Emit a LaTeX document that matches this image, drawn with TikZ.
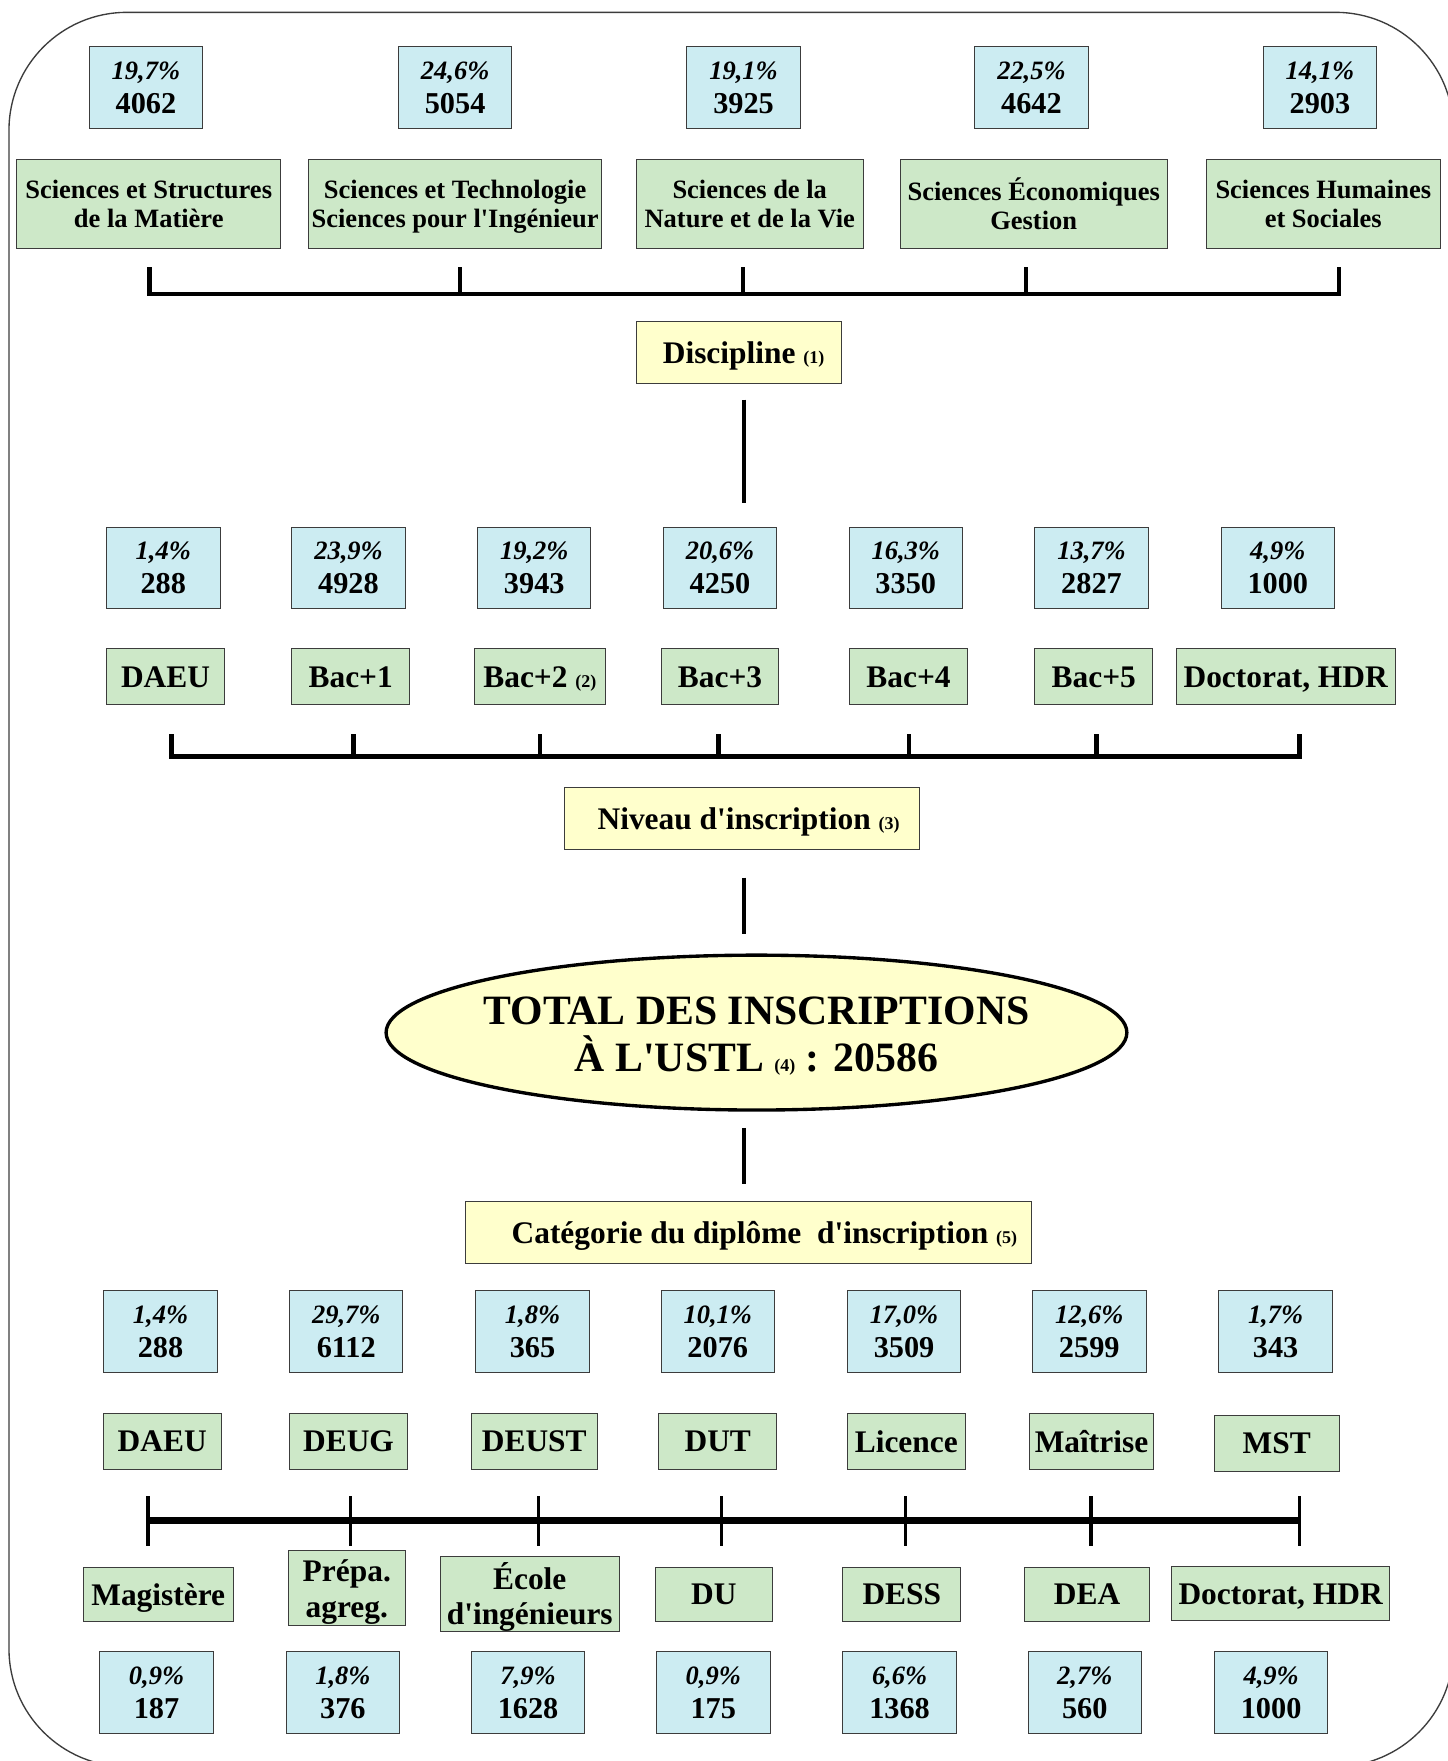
\documentclass[tikz,border=0pt]{standalone}
\usepackage{fontspec}
\setmainfont{Liberation Serif}[Ligatures=TeXOff]
\usetikzlibrary{shapes.geometric}
\definecolor{pctblue}{RGB}{204,236,242}
\definecolor{labgreen}{RGB}{205,232,200}
\definecolor{headyellow}{RGB}{255,255,204}
\definecolor{boxline}{RGB}{60,60,60}
\newcommand{\pct}[1]{{\fontsize{11.8}{15}\selectfont\itshape #1}}
\newcommand{\refnum}[1]{{\fontsize{8}{10}\selectfont #1}}
\tikzset{
  pctbox/.style={rectangle, draw=boxline, fill=pctblue, minimum width=50.5pt, minimum height=36.5pt,
    align=center, inner sep=0pt, font=\fontsize{13.5}{15}\selectfont\bfseries},
  labbox/.style={rectangle, draw=boxline, fill=labgreen, minimum height=25pt, align=center,
    inner sep=1pt, text depth=0pt, font=\fontsize{14}{16}\selectfont\bfseries},
  disbox/.style={labbox, minimum height=39.5pt, font=\fontsize{11.8}{13}\selectfont\bfseries},
  headbox/.style={rectangle, draw=boxline, fill=headyellow, minimum height=27.5pt, text depth=0pt,
    font=\fontsize{14}{16}\selectfont\bfseries},
  bar/.style={line width=2pt},
  link/.style={line width=1.5pt},
}
\begin{document}
\begin{tikzpicture}[x=0.5pt, y=-0.5pt]
        \fill[white] (0,0) rectangle (1290,1569);
        \useasboundingbox (0,0) rectangle (1290,1569);
        \draw[boxline, line width=0.6pt, rounded corners=52.5pt] (8,11) rectangle (1295,1574);

        % Disciplines: counts
        \node (pd1) [pctbox] at (130,78) {\pct{19,7\%}\\4062};
        \node (pd2) [pctbox] at (405.5,78) {\pct{24,6\%}\\5054};
        \node (pd3) [pctbox] at (662.5,78) {\pct{19,1\%}\\3925};
        \node (pd4) [pctbox] at (919,78) {\pct{22,5\%}\\4642};
        \node (pd5) [pctbox] at (1176,78) {\pct{14,1\%}\\2903};

        % Disciplines: names
        \node (d1) [disbox, minimum width=117.5pt] at (132.5,181.5) {Sciences et Structures\\de la Matière};
        \node (d2) [disbox, minimum width=130.5pt] at (405.5,181.5) {Sciences et Technologie\\Sciences pour l'Ingénieur};
        \node (d3) [disbox, minimum width=101pt] at (668,181.5) {Sciences de la\\Nature et de la Vie};
        \node (d4) [disbox, minimum width=119pt] at (921,181.5) {Sciences Économiques\\Gestion};
        \node (d5) [disbox, minimum width=104pt] at (1179,181.5) {Sciences Humaines\\et Sociales};

        % Bracket under the disciplines
        \coordinate (bd1) at (133,238);
        \coordinate (bd2) at (410,238);
        \coordinate (bd3) at (662,238);
        \coordinate (bd4) at (914,238);
        \coordinate (bd5) at (1193,238);
        \draw[bar] (bd1) -- ++(0,24) -| (bd5);
        \draw[bar] (bd2) -- ++(0,24);
        \draw[bar] (bd3) -- ++(0,24);
        \draw[bar] (bd4) -- ++(0,24);

        \node (discipline) [headbox, minimum width=91.5pt] at (658.5,314) {\hspace*{4pt}Discipline \refnum{(1)}};

        \coordinate (v1a) at (663,356);
        \coordinate (v1b) at (663,448);
        \draw[link] (v1a) -- (v1b);

        % Levels: counts
        \node (pl1) [pctbox] at (145.5,506) {\pct{1,4\%}\\288};
        \node (pl2) [pctbox] at (310.5,506) {\pct{23,9\%}\\4928};
        \node (pl3) [pctbox] at (476,506) {\pct{19,2\%}\\3943};
        \node (pl4) [pctbox] at (641.5,506) {\pct{20,6\%}\\4250};
        \node (pl5) [pctbox] at (807,506) {\pct{16,3\%}\\3350};
        \node (pl6) [pctbox] at (972.5,506) {\pct{13,7\%}\\2827};
        \node (pl7) [pctbox] at (1138.5,506) {\pct{4,9\%}\\1000};

        % Levels: names
        \node (l1) [labbox, minimum width=52.5pt] at (147.5,603) {DAEU};
        \node (l2) [labbox, minimum width=52.5pt] at (312.5,603) {Bac+1};
        \node (l3) [labbox, minimum width=58pt] at (481,603) {Bac+2 \refnum{(2)}};
        \node (l4) [labbox, minimum width=52.5pt] at (641.5,603) {Bac+3};
        \node (l5) [labbox, minimum width=52.5pt] at (809.5,603) {Bac+4};
        \node (l6) [labbox, minimum width=52.5pt] at (974.5,603) {Bac+5};
        \node (l7) [labbox, minimum width=97.5pt] at (1145.5,603) {Doctorat, HDR};

        % Bracket under the levels
        \coordinate (bl1) at (153,654);
        \coordinate (bl2) at (315,654);
        \coordinate (bl3) at (481,654);
        \coordinate (bl4) at (640,654);
        \coordinate (bl5) at (810,654);
        \coordinate (bl6) at (977,654);
        \coordinate (bl7) at (1158,654);
        \draw[bar] (bl1) -- ++(0,20) -| (bl7);
        \draw[bar] (bl2) -- ++(0,20);
        \draw[bar] (bl3) -- ++(0,20);
        \draw[bar] (bl4) -- ++(0,20);
        \draw[bar] (bl5) -- ++(0,20);
        \draw[bar] (bl6) -- ++(0,20);

        \node (niveau) [headbox, minimum width=158pt] at (661,729) {\hspace*{6pt}Niveau d'inscription \refnum{(3)}};

        \coordinate (v2a) at (663,782);
        \coordinate (v2b) at (663,832);
        \draw[link] (v2a) -- (v2b);

        % Total
        \node (total) [ellipse, draw=black, line width=1.5pt, fill=headyellow, minimum width=330pt,
          minimum height=69pt, inner sep=0pt] at (674,920) {};
        \node (totaltext) [align=center, font=\fontsize{18.6}{21}\selectfont\bfseries]
          at ([yshift=-1.5pt]total.center) {TOTAL DES INSCRIPTIONS\\À L'USTL \refnum{(4)} : 20586};

        \coordinate (v3a) at (663,1005);
        \coordinate (v3b) at (663,1055);
        \draw[link] (v3a) -- (v3b);

        \node (categorie) [headbox, minimum width=252pt] at (667,1098) {\hspace*{14pt}Catégorie du diplôme\ \ d'inscription \refnum{(5)}};

        % Categories: counts
        \node (pc1) [pctbox] at (143,1186.5) {\pct{1,4\%}\\288};
        \node (pc2) [pctbox] at (308.5,1186.5) {\pct{29,7\%}\\6112};
        \node (pc3) [pctbox] at (474.5,1186.5) {\pct{1,8\%}\\365};
        \node (pc4) [pctbox] at (639.5,1186.5) {\pct{10,1\%}\\2076};
        \node (pc5) [pctbox] at (805.5,1186.5) {\pct{17,0\%}\\3509};
        \node (pc6) [pctbox] at (970.5,1186.5) {\pct{12,6\%}\\2599};
        \node (pc7) [pctbox] at (1136.5,1186.5) {\pct{1,7\%}\\343};

        % Categories: names (upper row)
        \node (c1) [labbox, minimum width=52.5pt] at (144.5,1284) {DAEU};
        \node (c2) [labbox, minimum width=52.5pt] at (310.5,1284) {DEUG};
        \node (c3) [labbox, minimum width=56pt] at (476,1284) {DEUST};
        \node (c4) [labbox, minimum width=52.5pt] at (639.5,1284) {DUT};
        \node (c5) [labbox, minimum width=52.5pt] at (807.5,1284) {Licence};
        \node (c6) [labbox, minimum width=55.5pt] at (972.5,1284) {Maîtrise};
        \node (c7) [labbox, minimum width=55.5pt] at (1137.5,1286) {MST};

        % Bracket between the two rows
        \coordinate (bc1) at (132,1333);
        \coordinate (bc2) at (312,1333);
        \coordinate (bc3) at (480,1333);
        \coordinate (bc4) at (643,1333);
        \coordinate (bc5) at (807,1333);
        \coordinate (bc6) at (972,1333);
        \coordinate (bc7) at (1158,1333);
        \draw[line width=3pt] ([yshift=-11pt]bc1) -- ([yshift=-11pt]bc7);
        \draw[link] (bc1) -- ++(0,44);
        \draw[link] (bc2) -- ++(0,44);
        \draw[link] (bc3) -- ++(0,44);
        \draw[link] (bc4) -- ++(0,44);
        \draw[link] (bc5) -- ++(0,44);
        \draw[link] (bc6) -- ++(0,44);
        \draw[link] (bc7) -- ++(0,44);

        % Categories: names (lower row)
        \node (c8) [labbox, minimum width=67pt, minimum height=24pt] at (141,1420.5) {Magistère};
        \node (c9) [labbox, minimum width=52pt, minimum height=33.5pt, font=\fontsize{14}{16}\selectfont\bfseries] at (309,1415) {Prépa.\\agreg.};
        \node (c10) [labbox, minimum width=80pt, minimum height=33.5pt, font=\fontsize{14}{15.5}\selectfont\bfseries] at (472,1420) {École\\d'ingénieurs};
        \node (c11) [labbox, minimum width=52pt, minimum height=24pt] at (636,1420.5) {DU};
        \node (c12) [labbox, minimum width=52.5pt, minimum height=24pt] at (803.5,1420.5) {DESS};
        \node (c13) [labbox, minimum width=55.5pt, minimum height=24pt] at (968.5,1420.5) {DEA};
        \node (c14) [labbox, minimum width=97pt, minimum height=24pt] at (1141,1420) {Doctorat, HDR};

        % Categories: counts (lower row)
        \node (pb1) [pctbox] at (139.5,1508) {\pct{0,9\%}\\187};
        \node (pb2) [pctbox] at (305.5,1508) {\pct{1,8\%}\\376};
        \node (pb3) [pctbox] at (470.5,1508) {\pct{7,9\%}\\1628};
        \node (pb4) [pctbox] at (635.5,1508) {\pct{0,9\%}\\175};
        \node (pb5) [pctbox] at (801.5,1508) {\pct{6,6\%}\\1368};
        \node (pb6) [pctbox] at (966.5,1508) {\pct{2,7\%}\\560};
        \node (pb7) [pctbox] at (1132.5,1508) {\pct{4,9\%}\\1000};

    \end{tikzpicture}
\end{document}
